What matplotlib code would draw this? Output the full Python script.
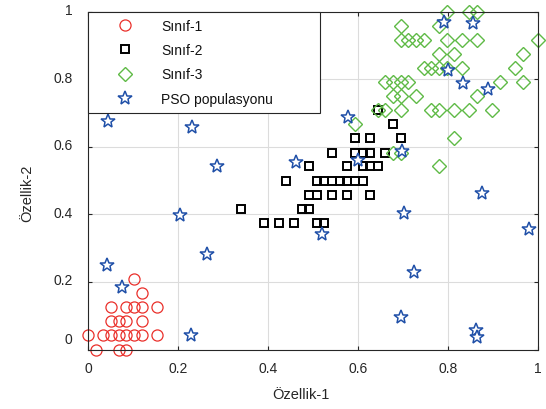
import matplotlib
matplotlib.use("Agg")
import matplotlib.pyplot as plt
from matplotlib.transforms import ScaledTranslation

plt.rcParams['font.family'] = ['Liberation Sans', 'DejaVu Sans']

# Normalized feature values (Özellik-1, Özellik-2) per class
sinif1_x = [0.017, 0.068, 0.085,
            0.000, 0.034, 0.051, 0.068, 0.085, 0.102, 0.119, 0.153,
            0.051, 0.068, 0.085, 0.119,
            0.051, 0.085, 0.102, 0.119, 0.153,
            0.119, 0.102]
sinif1_y = [0.000, 0.000, 0.000,
            0.042, 0.042, 0.042, 0.042, 0.042, 0.042, 0.042, 0.042,
            0.083, 0.083, 0.083, 0.083,
            0.125, 0.125, 0.125, 0.125, 0.125,
            0.167, 0.208]

sinif2_x = [0.390, 0.424, 0.458, 0.508, 0.525,
            0.339, 0.475, 0.492,
            0.492, 0.508, 0.542, 0.576, 0.627,
            0.441, 0.508, 0.525, 0.542, 0.559, 0.576, 0.593, 0.610,
            0.492, 0.576, 0.610, 0.627, 0.644,
            0.542, 0.593, 0.610, 0.627, 0.661,
            0.593, 0.627, 0.695,
            0.678, 0.644]
sinif2_y = [0.375, 0.375, 0.375, 0.375, 0.375,
            0.417, 0.417, 0.417,
            0.458, 0.458, 0.458, 0.458, 0.458,
            0.500, 0.500, 0.500, 0.500, 0.500, 0.500, 0.500, 0.500,
            0.542, 0.542, 0.542, 0.542, 0.542,
            0.583, 0.583, 0.583, 0.583, 0.583,
            0.625, 0.625, 0.625,
            0.667, 0.708]

sinif3_x = [0.780, 0.678, 0.695, 0.814, 0.593,
            0.644, 0.661, 0.695, 0.763, 0.780, 0.814, 0.847, 0.898,
            0.678, 0.695, 0.729, 0.864,
            0.661, 0.678, 0.695, 0.712, 0.915, 0.966,
            0.746, 0.763, 0.780, 0.797, 0.831, 0.949,
            0.780, 0.814, 0.966,
            0.695, 0.712, 0.729, 0.746, 0.797, 0.831, 0.864, 1.000,
            0.695, 0.780,
            0.797, 0.847, 0.864]
sinif3_y = [0.542, 0.583, 0.583, 0.625, 0.667,
            0.708, 0.708, 0.708, 0.708, 0.708, 0.708, 0.708, 0.708,
            0.750, 0.750, 0.750, 0.750,
            0.792, 0.792, 0.792, 0.792, 0.792, 0.792,
            0.833, 0.833, 0.833, 0.833, 0.833, 0.833,
            0.875, 0.875, 0.875,
            0.917, 0.917, 0.917, 0.917, 0.917, 0.917, 0.917, 0.917,
            0.958, 0.958,
            1.000, 1.000, 1.000]

# PSO particle positions
pso_x = [0.044, 0.232, 0.286, 0.204, 0.264, 0.043, 0.075, 0.229,
         0.462, 0.521, 0.578, 0.599, 0.697, 0.702, 0.792, 0.855,
         0.801, 0.834, 0.889, 0.876, 0.980, 0.725, 0.696, 0.862, 0.864]
pso_y = [0.676, 0.658, 0.544, 0.398, 0.283, 0.251, 0.186, 0.043,
         0.554, 0.342, 0.687, 0.562, 0.589, 0.405, 0.969, 0.967,
         0.827, 0.790, 0.771, 0.462, 0.357, 0.229, 0.097, 0.058, 0.036]

labels = ['Sınıf-1', 'Sınıf-2', 'Sınıf-3', 'PSO populasyonu']
ticks = [0, 0.2, 0.4, 0.6, 0.8, 1]
tick_labels = ['0', '0.2', '0.4', '0.6', '0.8', '1']

fig = plt.figure(figsize=(5.46, 4.10), dpi=100)
ax = fig.add_axes([0.1612, 0.1451, 0.8242, 0.8239])

ax.plot(sinif1_x, sinif1_y, linestyle='none', marker='o', ms=8.0,
        mfc='none', mec='#ea2f2a', mew=0.9, clip_on=False, label=labels[0])
ax.plot(sinif2_x, sinif2_y, linestyle='none', marker='s', ms=5.3,
        mfc='none', mec='#000000', mew=1.4, clip_on=False, label=labels[1])
ax.plot(sinif3_x, sinif3_y, linestyle='none', marker='D', ms=7.4,
        mfc='none', mec='#5fba46', mew=1.0, clip_on=False, label=labels[2])
ax.plot(pso_x, pso_y, linestyle='none', marker='*', ms=10.5,
        mfc='white', mec='#2050a8', mew=1.1, clip_on=False, label=labels[3])

ax.set_xlim(0, 1)
ax.set_ylim(0, 1)
ax.set_xticks(ticks)
ax.set_xticklabels(tick_labels)
ax.set_yticks(ticks)
ax.set_yticklabels(tick_labels)
ax.tick_params(direction='in', top=True, right=True, length=3, width=0.8,
               colors='#262626', labelsize=10)
ax.tick_params(axis='y', pad=11)
ax.tick_params(axis='x', pad=8)
ax.grid(True, color='#dcdcdc', lw=0.8)
ax.set_axisbelow(True)
for s in ax.spines.values():
    s.set_color('#262626')
    s.set_linewidth(0.8)

# nudge the y tick labels upward, the zero label more
for lab in ax.get_yticklabels():
    dy = 0.12 if lab.get_text() == '0' else 0.03
    lab.set_transform(lab.get_transform() + ScaledTranslation(0, dy, fig.dpi_scale_trans))

ax.set_xlabel('Özellik-1', fontsize=10.5, color='#262626')
ax.set_ylabel('Özellik-2', fontsize=10.5, color='#262626')
ax.xaxis.set_label_coords(0.473, -0.112)
ax.yaxis.set_label_coords(-0.12, 0.466)

leg = ax.legend(loc='upper left', bbox_to_anchor=(0, 1, 232 / 450, 0), mode='expand',
                borderaxespad=0, frameon=True, fancybox=False, edgecolor='#262626',
                framealpha=1, fontsize=10, borderpad=0.52, labelspacing=0.74,
                handlelength=4.3, handletextpad=0.45, numpoints=1)
leg.get_frame().set_linewidth(0.8)
for t in leg.get_texts():
    t.set_color('#111111')

fig.savefig('out.png', dpi=100)
